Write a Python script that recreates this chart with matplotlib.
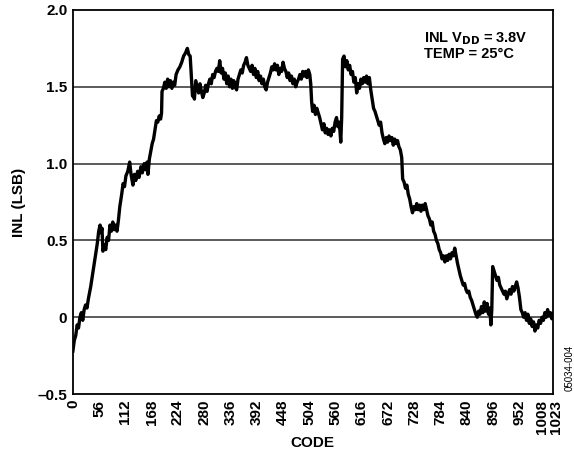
import numpy as np
import matplotlib.transforms as mtransforms
from matplotlib import pyplot as plt

plt.rcParams['font.family'] = ['Liberation Sans', 'DejaVu Sans']

# INL trace (code, LSB)
codes = [
    0, 3, 6, 9, 12, 15, 18, 21, 24, 27, 30, 33, 38, 43, 48, 52, 55, 58, 60, 62,
    64, 67, 70, 73, 76, 79, 82, 85, 88, 91, 94, 97, 100, 104, 107, 110, 113, 117, 121, 124,
    128, 131, 134, 138, 141, 145, 148, 152, 155, 158, 160, 163, 166, 169, 172, 175, 178, 181, 184, 187,
    189, 190, 193, 196, 199, 202, 205, 208, 211, 214, 217, 220, 224, 228, 232, 236, 240, 244, 247, 250,
    253, 255, 257, 259, 262, 265, 268, 271, 274, 277, 280, 283, 286, 289, 292, 295, 298, 301, 304, 307,
    310, 313, 316, 319, 322, 325, 328, 331, 334, 337, 340, 343, 346, 349, 352, 355, 358, 361, 364, 367,
    370, 373, 376, 379, 382, 385, 388, 391, 394, 397, 400, 403, 406, 409, 412, 415, 418, 421, 424, 427,
    430, 433, 436, 439, 442, 445, 448, 451, 454, 457, 460, 463, 466, 469, 472, 475, 478, 481, 484, 487,
    490, 493, 496, 499, 502, 505, 507, 509, 511, 514, 517, 520, 523, 526, 529, 532, 535, 538, 541, 544,
    547, 550, 553, 556, 559, 562, 565, 568, 571, 573, 575, 578, 581, 584, 587, 590, 593, 596, 599, 602,
    605, 608, 611, 614, 617, 620, 623, 626, 629, 632, 635, 638, 641, 644, 647, 650, 653, 656, 659, 662,
    665, 668, 671, 674, 677, 680, 683, 686, 689, 692, 695, 698, 701, 703, 706, 709, 712, 715, 718, 721,
    724, 727, 730, 733, 736, 739, 742, 745, 748, 751, 754, 757, 760, 763, 766, 769, 772, 775, 778, 781,
    784, 787, 790, 793, 796, 799, 802, 805, 808, 811, 814, 817, 820, 823, 826, 829, 832, 835, 838, 841,
    844, 847, 850, 853, 856, 859, 862, 865, 868, 871, 874, 877, 880, 883, 886, 889, 891, 893, 895, 898,
    901, 904, 907, 910, 913, 916, 919, 922, 925, 928, 931, 934, 937, 940, 943, 946, 949, 952, 955, 958,
    961, 964, 967, 970, 973, 976, 979, 982, 985, 988, 991, 994, 997, 1000, 1003, 1006, 1009, 1012, 1015, 1018,
    1021, 1023,
]
inl = [
    -0.22, -0.15, -0.12, -0.05, -0.07, 0.00, 0.03, -0.02, 0.05, 0.08, 0.06, 0.12, 0.20, 0.30, 0.40, 0.48, 0.56, 0.60, 0.55, 0.58,
    0.43, 0.47, 0.44, 0.52, 0.50, 0.60, 0.56, 0.62, 0.57, 0.60, 0.56, 0.63, 0.72, 0.80, 0.87, 0.85, 0.92, 0.95, 1.01, 0.93,
    0.86, 0.93, 0.89, 0.95, 0.91, 0.98, 0.94, 1.00, 0.96, 1.01, 0.93, 1.03, 1.08, 1.13, 1.16, 1.22, 1.28, 1.27, 1.31, 1.29,
    1.33, 1.47, 1.49, 1.53, 1.49, 1.55, 1.50, 1.54, 1.49, 1.53, 1.51, 1.58, 1.61, 1.63, 1.66, 1.70, 1.72, 1.75, 1.71, 1.70,
    1.55, 1.44, 1.46, 1.42, 1.54, 1.50, 1.46, 1.52, 1.47, 1.43, 1.46, 1.51, 1.47, 1.52, 1.55, 1.52, 1.58, 1.56, 1.60, 1.62,
    1.60, 1.67, 1.59, 1.62, 1.55, 1.59, 1.52, 1.57, 1.50, 1.55, 1.49, 1.54, 1.50, 1.48, 1.55, 1.58, 1.61, 1.59, 1.64, 1.66,
    1.69, 1.64, 1.62, 1.60, 1.64, 1.58, 1.62, 1.56, 1.60, 1.54, 1.57, 1.52, 1.55, 1.50, 1.48, 1.53, 1.56, 1.59, 1.63, 1.61,
    1.65, 1.61, 1.64, 1.58, 1.62, 1.60, 1.66, 1.62, 1.60, 1.56, 1.59, 1.54, 1.57, 1.52, 1.55, 1.50, 1.53, 1.55, 1.58, 1.55,
    1.60, 1.57, 1.60, 1.56, 1.61, 1.58, 1.52, 1.40, 1.34, 1.38, 1.32, 1.36, 1.33, 1.30, 1.26, 1.22, 1.26, 1.20, 1.23, 1.19,
    1.22, 1.18, 1.23, 1.21, 1.27, 1.30, 1.24, 1.27, 1.14, 1.30, 1.68, 1.70, 1.63, 1.67, 1.61, 1.64, 1.58, 1.60, 1.53, 1.56,
    1.46, 1.52, 1.49, 1.55, 1.52, 1.56, 1.53, 1.57, 1.52, 1.56, 1.48, 1.42, 1.36, 1.34, 1.31, 1.28, 1.25, 1.27, 1.20, 1.16,
    1.13, 1.17, 1.14, 1.18, 1.15, 1.17, 1.12, 1.16, 1.13, 1.15, 1.11, 1.09, 1.04, 0.90, 0.88, 0.84, 0.86, 0.80, 0.77, 0.72,
    0.68, 0.72, 0.70, 0.74, 0.70, 0.73, 0.69, 0.73, 0.70, 0.74, 0.70, 0.66, 0.64, 0.60, 0.62, 0.56, 0.54, 0.50, 0.48, 0.44,
    0.42, 0.38, 0.40, 0.36, 0.40, 0.37, 0.41, 0.38, 0.42, 0.40, 0.45, 0.40, 0.35, 0.31, 0.27, 0.24, 0.21, 0.22, 0.18, 0.16,
    0.17, 0.13, 0.11, 0.08, 0.05, 0.02, 0.00, 0.04, 0.02, 0.07, 0.03, 0.10, 0.04, 0.09, 0.02, 0.06, -0.05, 0.05, 0.33, 0.30,
    0.27, 0.24, 0.26, 0.21, 0.19, 0.17, 0.15, 0.17, 0.12, 0.15, 0.18, 0.15, 0.20, 0.17, 0.20, 0.23, 0.19, 0.13, 0.05, 0.03,
    0.00, 0.03, -0.02, 0.02, -0.04, -0.01, -0.06, -0.03, -0.09, -0.05, -0.07, -0.02, -0.04, 0.00, -0.02, 0.03, 0.00, 0.05, 0.01, 0.03,
    -0.01, 0.02,
]

x_ticks = [0, 56, 112, 168, 224, 280, 336, 392, 448, 504, 560, 616, 672, 728, 784, 840, 896, 952, 1008, 1023]
y_ticks = [-0.5, 0, 0.5, 1.0, 1.5, 2.0]
y_labels = ["\u20130.5", "0", "0.5", "1.0", "1.5", "2.0"]

fig = plt.figure(figsize=(5.74, 4.54), dpi=100)
ax = fig.add_axes([0.127, 0.132, 0.836, 0.846])

for g in [0, 0.5, 1.0, 1.5]:
    ax.axhline(g, color="#404040", lw=1.2, zorder=1)

ax.plot(codes, inl, color="black", lw=2.4, zorder=3)

ax.set_xlim(0, 1023)
ax.set_ylim(-0.5, 2.0)
ax.set_xticks(x_ticks)
ax.set_xticklabels([str(t) for t in x_ticks], rotation=90, fontweight="bold", fontsize=11)
ax.set_yticks(y_ticks)
ax.set_yticklabels(y_labels, fontweight="bold", fontsize=11)
ax.tick_params(length=0, pad=4)
for s in ax.spines.values():
    s.set_linewidth(1.3)

# the last two labels sit close together, nudge them apart
lbls = ax.get_xticklabels()
lbls[-2].set_transform(lbls[-2].get_transform() + mtransforms.ScaledTranslation(-4 / 100, 0, fig.dpi_scale_trans))
lbls[-1].set_transform(lbls[-1].get_transform() + mtransforms.ScaledTranslation(3 / 100, 0, fig.dpi_scale_trans))

ax.set_xlabel("CODE", fontweight="bold", fontsize=11, labelpad=2)
ax.set_ylabel("INL (LSB)", fontweight="bold", fontsize=11, labelpad=8)

ax.text(0.732, 0.947, "INL V$_{\\mathbf{DD}}$ = 3.8V\nTEMP = 25\u00b0C", transform=ax.transAxes,
        ha="left", va="top", fontweight="bold", fontsize=10.5, linespacing=1.0)

fig.text(0.993, 0.19, "05034-004", rotation=90, fontsize=7, ha="center", va="center")

fig.savefig("out.png", dpi=100)
